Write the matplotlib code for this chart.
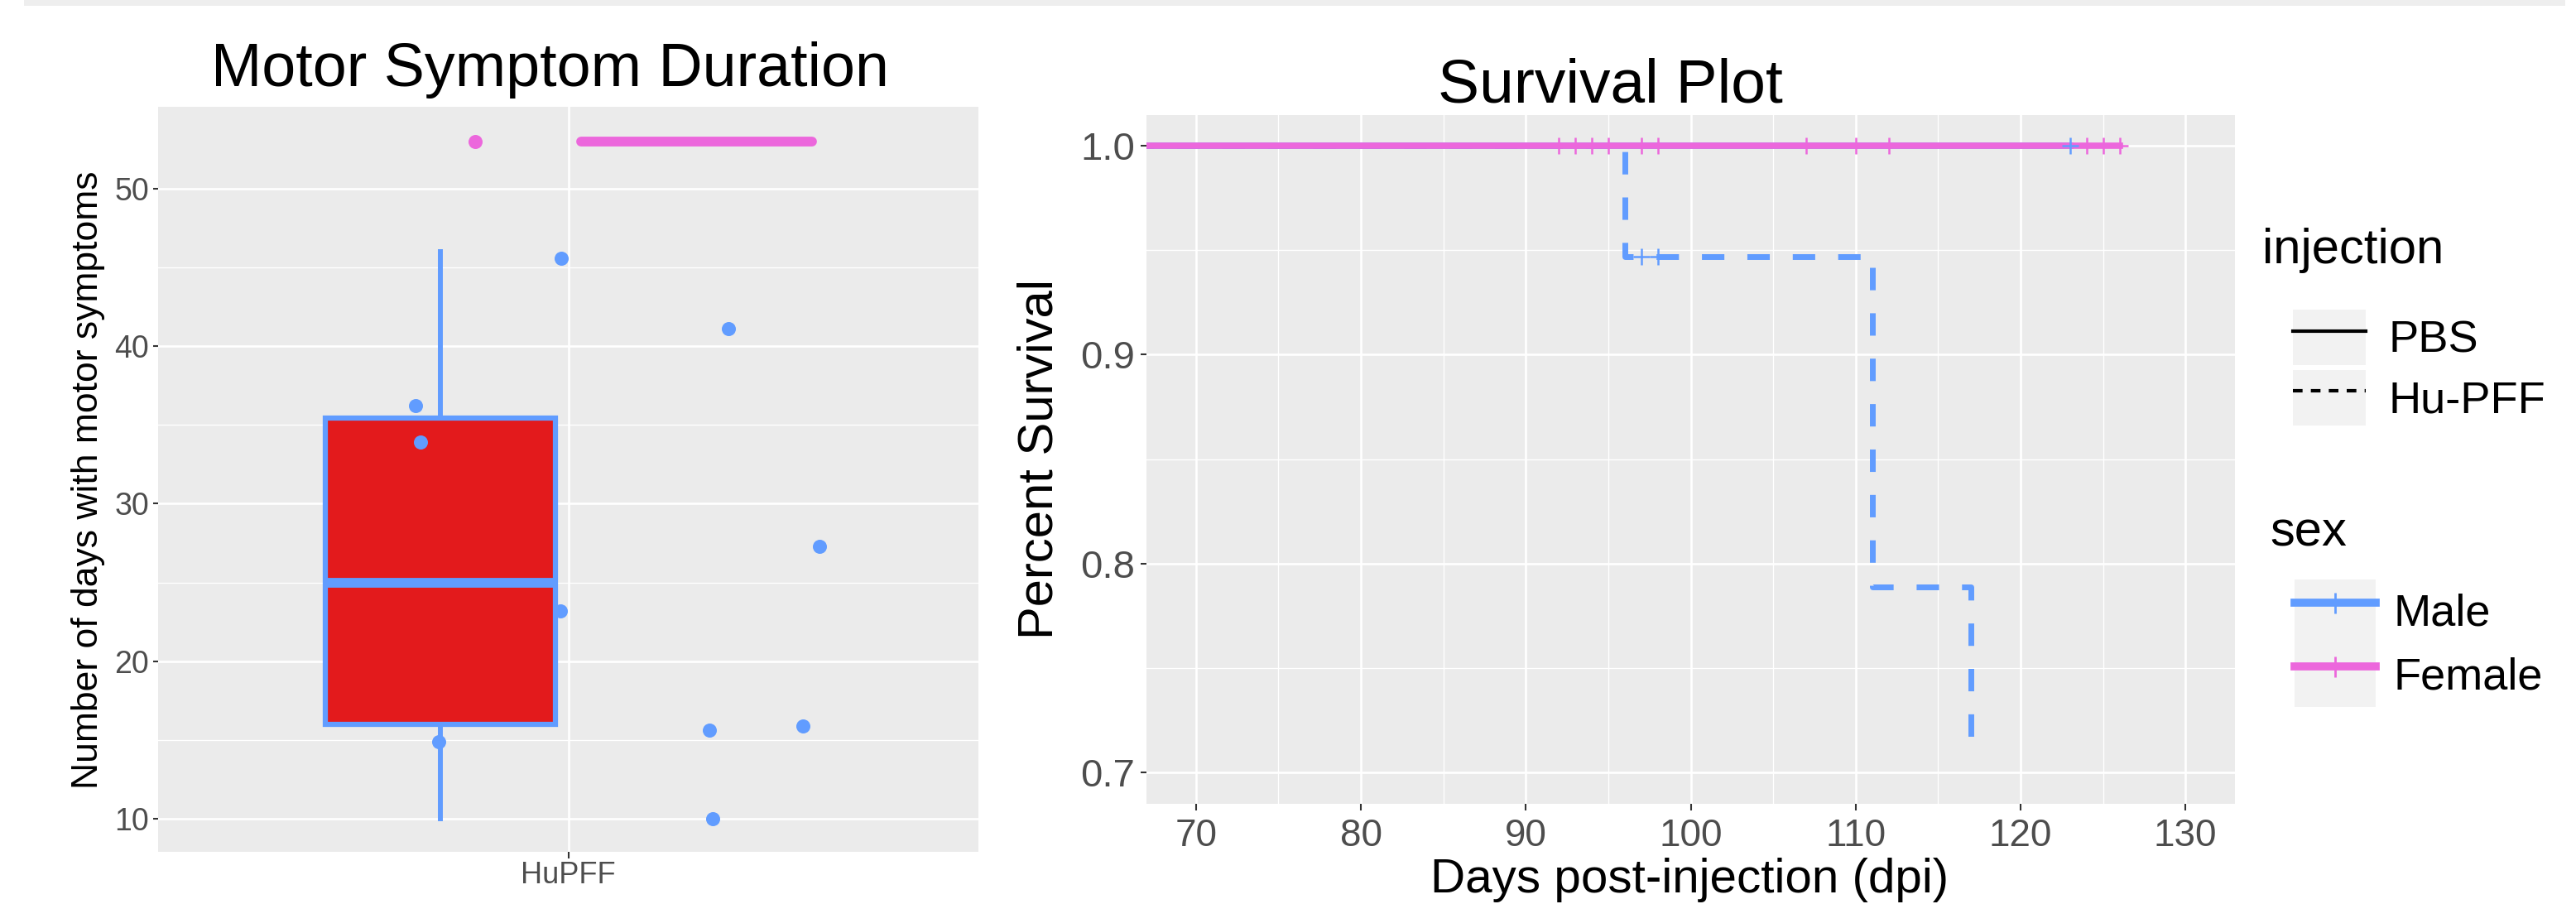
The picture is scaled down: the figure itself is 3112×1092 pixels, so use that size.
import numpy as np
import matplotlib.pyplot as plt
from matplotlib.lines import Line2D
from matplotlib.patches import Rectangle
from matplotlib.legend_handler import HandlerTuple

plt.rcParams['font.family'] = ['Liberation Sans', 'DejaVu Sans']

W, H, DPI = 3112, 1092, 100

BLUE = '#619CFF'
PINK = '#EC67DC'
RED = '#E31A1C'
PANEL = '#EBEBEB'
TICK_TXT = '#4D4D4D'
KEY_BG = '#F2F2F2'

# ---- motor symptom duration (left panel) ----
group_labels = ['HuPFF']
male_days = [45.6, 41.1, 36.2, 33.9, 27.3, 23.2, 15.6, 15.9, 14.9, 10.0]
male_jitter_x = [0.989, 1.234, 0.776, 0.783, 1.367, 0.988, 1.206, 1.343, 0.810, 1.211]
female_days = [53.0]
female_jitter_x = [0.863]
male_box = dict(q1=16.0, med=25.0, q3=35.45, whislo=10.0, whishi=46.0)
female_box = dict(q1=53.0, med=53.0, q3=53.0, whislo=53.0, whishi=53.0)

# ---- survival (right panel) ----
male_pff_t = [0, 96, 111, 117]
male_pff_s = [1.0, 0.947, 0.789, 0.7105]
male_pff_cens_t = [97, 98]
male_pff_cens_s = [0.947, 0.947]
male_pbs_t = [0, 123]
male_pbs_s = [1.0, 1.0]
male_pbs_cens_t = [123]
female_t = [0, 126]
female_s = [1.0, 1.0]
female_cens_t = [92, 93, 94, 95, 97, 98, 107, 110, 112, 124, 125, 126]

x_major = np.arange(70, 131, 10)
x_minor = np.arange(75, 126, 10)
y_major = [0.7, 0.8, 0.9, 1.0]
y_minor = [0.75, 0.85, 0.95]

fig = plt.figure(figsize=(W / DPI, H / DPI), dpi=DPI)

# thin grey band along the top edge
fig.patches.append(Rectangle((29 / W, 1 - 7 / H), 3070 / W, 7 / H,
                             transform=fig.transFigure, facecolor='#EEEEEE',
                             edgecolor='none'))


def style_panel(ax):
    ax.set_facecolor(PANEL)
    for s in ax.spines.values():
        s.set_visible(False)
    ax.set_axisbelow(True)
    ax.grid(which='major', color='white', lw=1.9)
    ax.grid(which='minor', color='white', lw=1.0)
    ax.tick_params(which='minor', length=0)
    ax.tick_params(which='major', color='#333333', width=1.5,
                   labelcolor=TICK_TXT)


# ---------- left: boxplot ----------
ax1 = fig.add_axes([191.3 / W, 63 / H, 990.8 / W, 900 / H])
style_panel(ax1)
dodge = 0.1875
bw = 0.3375
arts = ax1.bxp([male_box, female_box], positions=[1 - dodge, 1 + dodge],
               widths=bw, showfliers=False, showcaps=False, patch_artist=True,
               boxprops=dict(facecolor=RED, edgecolor=BLUE, linewidth=4.5),
               medianprops=dict(color=BLUE, linewidth=8.5),
               whiskerprops=dict(color=BLUE, linewidth=4.3))
arts['boxes'][1].set_edgecolor(PINK)
arts['medians'][1].set_color(PINK)
arts['medians'][1].set_solid_capstyle('round')
for w in arts['whiskers'][2:]:
    w.set_color(PINK)
ax1.scatter(male_jitter_x, male_days, s=150, color=BLUE, zorder=5, lw=0)
ax1.scatter(female_jitter_x, female_days, s=150, color=PINK, zorder=5, lw=0)
ax1.set_xlim(0.4, 1.6)
ax1.set_ylim(7.89, 55.2)
ax1.set_xticks([1])
ax1.set_xticklabels(group_labels)
ax1.set_yticks([10, 20, 30, 40, 50])
ax1.set_yticks([15, 25, 35, 45], minor=True)
ax1.tick_params(axis='y', labelsize=27, length=4, pad=4)
ax1.tick_params(axis='x', labelsize=26, length=6, pad=2)

fig.text(664 / W, 1 - 104 / H, 'Motor Symptom Duration', ha='center',
         va='baseline', fontsize=53)
fig.text(107 / W, 1 - 580 / H, 'Number of days with motor symptoms',
         rotation=90, ha='center', va='center', fontsize=32)

# ---------- right: survival curves ----------
ax2 = fig.add_axes([1385 / W, 121 / H, 1315 / W, 832 / H])
style_panel(ax2)
dash = (0, (3.9, 4.0))
ax2.step(male_pff_t, male_pff_s, where='post', color=BLUE, lw=5,
         linestyle=dash, zorder=2)
ax2.step(male_pbs_t, male_pbs_s, where='post', color=BLUE, lw=5.5, zorder=2)
ax2.step(female_t, female_s, where='post', color=PINK, lw=5.5, zorder=3)
ax2.plot(female_cens_t, [1.0] * len(female_cens_t), ls='none', marker='+',
         ms=14, mew=1.8, color=PINK, zorder=4)
ax2.plot(male_pbs_cens_t, [1.0] * len(male_pbs_cens_t), ls='none', marker='+',
         ms=14, mew=1.8, color=BLUE, zorder=4)
ax2.plot(male_pff_cens_t, male_pff_cens_s, ls='none', marker='+',
         ms=14, mew=1.8, color=BLUE, zorder=4)
ax2.set_xlim(67, 133)
ax2.set_ylim(0.685, 1.0147)
ax2.set_xticks(x_major)
ax2.set_xticks(x_minor, minor=True)
ax2.set_yticks(y_major)
ax2.set_yticks(y_minor, minor=True)
ax2.set_yticklabels([f'{v:.1f}' for v in y_major])
ax2.tick_params(axis='y', labelsize=34, length=5, pad=5)
ax2.tick_params(axis='x', labelsize=33, length=6, pad=6)

fig.text(1945 / W, 1 - 124 / H, 'Survival Plot', ha='center', va='baseline',
         fontsize=54)
fig.text(1256 / W, 1 - 554 / H, 'Percent Survival', rotation=90,
         ha='center', va='center', fontsize=43)
fig.text(2041 / W, 2 / H, 'Days post-injection (dpi)', ha='center',
         va='bottom', fontsize=42)

# ---------- legends ----------
fs_px = 39 * DPI / 72
hmap = {tuple: HandlerTuple(ndivide=1, pad=0)}

inj_handles = [
    (Rectangle((0, 0), 1, 1, facecolor=KEY_BG, edgecolor='none'),
     Line2D([], [], color='black', lw=3)),
    (Rectangle((0, 0), 1, 1, facecolor=KEY_BG, edgecolor='none'),
     Line2D([], [], color='black', lw=3, linestyle=(0, (2.8, 2.4)))),
]
fig.legend(inj_handles, ['PBS', 'Hu-PFF'], handler_map=hmap,
           loc='upper left', bbox_to_anchor=(2770 / W, 1 - 374 / H),
           frameon=False, fontsize=39, handlelength=88 / fs_px,
           handleheight=83 / fs_px, labelspacing=0.1, handletextpad=0.5,
           borderpad=0, borderaxespad=0)

sex_handles = [
    (Rectangle((0, 0), 1, 1, facecolor=KEY_BG, edgecolor='none'),
     Line2D([], [], color=BLUE, lw=7, marker='+', ms=18, mew=2)),
    (Rectangle((0, 0), 1, 1, facecolor=KEY_BG, edgecolor='none'),
     Line2D([], [], color=PINK, lw=7, marker='+', ms=18, mew=2)),
]
fig.legend(sex_handles, ['Male', 'Female'], handler_map=hmap,
           loc='upper left', bbox_to_anchor=(2772 / W, 1 - 700 / H),
           frameon=False, fontsize=39, handlelength=98 / fs_px,
           handleheight=98 / fs_px, labelspacing=0.0, handletextpad=0.4,
           borderpad=0, borderaxespad=0)

fig.text(2733 / W, 1 - 318 / H, 'injection', ha='left', va='baseline',
         fontsize=43)
fig.text(2742 / W, 1 - 660 / H, 'sex', ha='left', va='baseline', fontsize=43)

fig.savefig('out.png', dpi=DPI)
